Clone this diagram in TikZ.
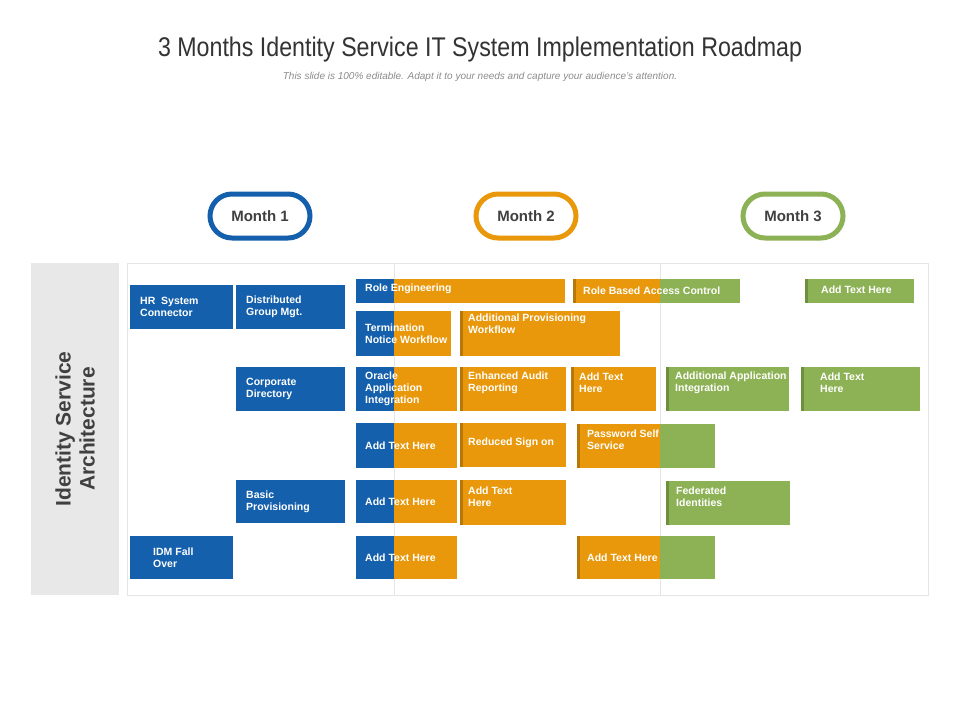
\documentclass[tikz,border=0pt]{standalone}
\usepackage{fontspec}
\setmainfont{Liberation Sans}
\begin{document}
\begin{tikzpicture}[x=1pt,y=-1pt,
  lbl/.style={text=white,font=\bfseries\fontsize{10.5}{12}\selectfont,anchor=west,align=left,inner sep=0pt},
  pill/.style={draw=#1,line width=5pt,rounded corners=22pt,fill=white,minimum width=100pt,minimum height=44pt,font=\bfseries\fontsize{15}{18}\selectfont,text=black!75}]
\definecolor{cb}{HTML}{1560AC}
\definecolor{co}{HTML}{E8980A}
\definecolor{cg}{HTML}{8DB255}
\definecolor{cod}{HTML}{B87808}
\definecolor{cgd}{HTML}{6E8F3E}
\useasboundingbox (0,0) rectangle (960,720);
\fill[white] (0,0) rectangle (960,720);
\node[font=\fontsize{27}{30}\selectfont,text=black!80,xscale=0.86] (title) at (480,50) {3 Months Identity Service IT System Implementation Roadmap};
\node[font=\itshape\fontsize{10}{12}\selectfont,text=black!45] (sub) at (480,77) {This slide is 100\% editable. Adapt it to your needs and capture your audience's attention.};
% pills
\node[pill=cb] (m1) at (260,216) {Month 1};
\node[pill=co] (m2) at (526,216) {Month 2};
\node[pill=cg] (m3) at (793,216) {Month 3};
% panel
\fill[black!9] (31,263) rectangle (119,595);
\node[rotate=90,font=\bfseries\fontsize{21}{24}\selectfont,text=black!75,align=center] (ia) at (75,429) {Identity Service\\Architecture};
\draw[black!10] (127,263) rectangle (928,595);
\draw[black!10] (394,263) -- (394,595) (660,263) -- (660,595);
% blue
\newcommand\blue[5]{\fill[cb] (#1,#2) rectangle (#3,#4); \node[lbl] at (#1+10,{(#2+#4)/2}) {#5};}
\blue{130}{285}{233}{329}{HR\ \ System\\Connector}
\blue{236}{285}{345}{329}{Distributed\\Group Mgt.}
\blue{236}{367}{345}{411}{Corporate\\Directory}
\blue{236}{480}{345}{523}{Basic\\Provisioning}
\fill[cb] (130,536) rectangle (233,579); \node[lbl] at (153,557.5) {IDM Fall\\Over};
% split blue/orange
\newcommand\bo[5]{\fill[cb] (356,#1) rectangle (394,#2); \fill[co] (394,#1) rectangle (#3,#2); \node[lbl] at (365,{(#1+#2)/2+#4}) {#5};}
\bo{279}{303}{565}{-2}{Role Engineering}
\bo{311}{356}{451}{0}{Termination\\Notice Workflow}
\bo{367}{411}{457}{0}{Oracle\\Application\\Integration}
\bo{423}{468}{457}{0}{Add Text Here}
\bo{480}{523}{457}{0}{Add Text Here}
\bo{536}{579}{457}{0}{Add Text Here}
% orange
\newcommand\org[6]{\fill[co] (#1,#2) rectangle (#3,#4); \fill[cod] (#1,#2) rectangle (#1+2.5,#4); \node[lbl] at (#1+8,{(#2+#4)/2+#5}) {#6};}
\org{460}{311}{620}{356}{-10}{Additional Provisioning\\Workflow}
\org{460}{367}{566}{411}{-6}{Enhanced Audit\\Reporting}
\org{460}{423}{566}{467}{-2}{Reduced Sign on}
\org{460}{480}{566}{525}{-6}{Add Text\\Here}
\org{571}{367}{656}{411}{-6}{Add Text\\Here}
% orange/green split
\newcommand\og[6]{\fill[co] (#1,#2) rectangle (660,#3); \fill[cg] (660,#2) rectangle (#4,#3); \fill[cod] (#1,#2) rectangle (#1+2.5,#3); \node[lbl] at (#1+10,{(#2+#3)/2+#5}) {#6};}
\og{573}{279}{303}{740}{0}{Role Based Access Control}
\og{577}{424}{468}{715}{-6}{Password Self\\Service}
\og{577}{536}{579}{715}{0}{Add Text Here}
% green
\newcommand\grn[6]{\fill[cg] (#1,#2) rectangle (#3,#4); \fill[cgd] (#1,#2) rectangle (#1+2.5,#4); \node[lbl] at (#1+#5,{(#2+#4)/2-6}) {#6};}
\fill[cg] (805,279) rectangle (914,303); \fill[cgd] (805,279) rectangle (807.5,303); \node[lbl] at (821,290) {Add Text Here};
\grn{666}{367}{789}{411}{9}{Additional Application\\Integration}
\grn{801}{367}{920}{411}{19}{Add Text\\Here}
\grn{666}{481}{790}{525}{10}{Federated\\Identities}
\end{tikzpicture}
\end{document}
